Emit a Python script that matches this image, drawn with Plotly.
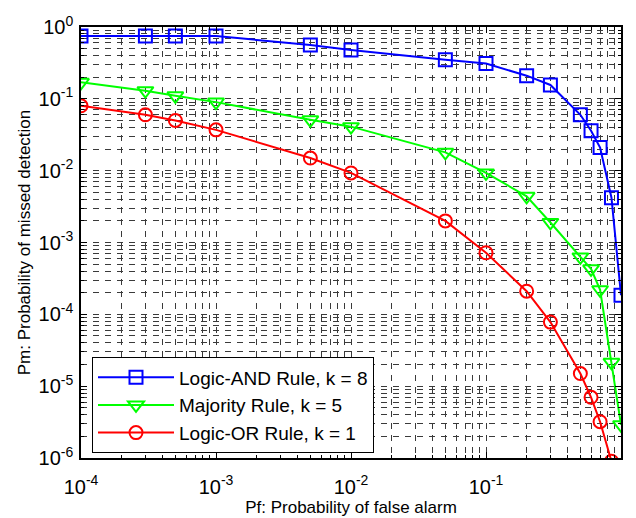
import plotly.graph_objects as go

pf = [1e-4, 3e-4, 5e-4, 1e-3, 5e-3, 1e-2, 0.05, 0.1, 0.2, 0.3, 0.5, 0.6, 0.7, 0.85, 1.0]
pm_and = [0.75, 0.75, 0.75, 0.75, 0.56, 0.48, 0.35, 0.31, 0.21, 0.156, 0.06, 0.036, 0.021, 4.2e-3, 1.85e-4]
pm_maj = [0.17, 0.13, 0.11, 0.09, 0.051, 0.041, 0.018, 0.0093, 0.0044, 0.0019, 6.3e-4, 4.3e-4, 2.2e-4, 2.15e-5, 2.9e-6]
pm_or = [0.08, 0.06, 0.05, 0.037, 0.015, 0.0093, 0.002, 7.2e-4, 2.1e-4, 7.8e-5, 1.5e-5, 7e-6, 3.2e-6, 9e-7, 1e-8]

names = ["Logic-AND Rule, k = 8", "Majority Rule, k = 5", "Logic-OR Rule, k = 1"]
colors = ["#0000FF", "#00FF00", "#FF0000"]
symbols = ["square-open", "triangle-down-open", "circle-open"]
sizes = [13, 14, 13]

xticks = [1e-4, 1e-3, 1e-2, 1e-1, 1e0]
xtext = ["10<sup>-4</sup>", "10<sup>-3</sup>", "10<sup>-2</sup>", "10<sup>-1</sup>", "10<sup>0</sup>"]
yticks = [1e-6, 1e-5, 1e-4, 1e-3, 1e-2, 1e-1, 1e0]
ytext = ["10<sup>-6</sup>", "10<sup>-5</sup>", "10<sup>-4</sup>", "10<sup>-3</sup>", "10<sup>-2</sup>", "10<sup>-1</sup>", "10<sup>0</sup>"]

FONT = "Liberation Sans, Arial"

fig = go.Figure()
for ys, nm, c, s, sz in zip([pm_and, pm_maj, pm_or], names, colors, symbols, sizes):
    fig.add_trace(go.Scatter(x=pf, y=ys, name=nm, mode="lines+markers",
                             line=dict(color=c, width=2),
                             marker=dict(symbol=s, size=sz, color=c, line=dict(color=c, width=2))))

gridcol = "#3a3a3a"
axis_common = dict(type="log", showline=True, linecolor="black", linewidth=1.5, mirror="ticks",
                   ticks="inside", ticklen=6, tickcolor="black", automargin=False,
                   showgrid=True, gridcolor=gridcol, griddash="6px,6px", gridwidth=1,
                   tickfont=dict(family=FONT, size=20, color="black"),
                   zeroline=False,
                   minor=dict(ticks="inside", ticklen=3, tickcolor="black", showgrid=True,
                              gridcolor=gridcol, griddash="6px,6px", gridwidth=1, dtick="D1"))

fig.update_xaxes(**axis_common, range=[-4, 0], tickvals=xticks, ticktext=xtext,
                 ticklabelstandoff=10,
                 title=dict(text="Pf: Probability of false alarm",
                            font=dict(family=FONT, size=17, color="black"), standoff=4))
fig.update_yaxes(**axis_common, range=[-6, 0], tickvals=yticks, ticktext=ytext,
                 ticklabelstandoff=2,
                 title=dict(text="Pm: Probability of missed detection",
                            font=dict(family=FONT, size=17, color="black"), standoff=4))

fig.update_layout(width=636, height=518, margin=dict(l=81, r=15, t=27, b=60),
                  paper_bgcolor="white", plot_bgcolor="white",
                  font=dict(family=FONT, color="black"),
                  legend=dict(x=0.02, y=0.234, xanchor="left", yanchor="top",
                              bgcolor="white", bordercolor="black", borderwidth=1.2,
                              font=dict(family=FONT, size=19, color="black"),
                              itemwidth=76, tracegroupgap=0))

fig.write_html("out.html")
